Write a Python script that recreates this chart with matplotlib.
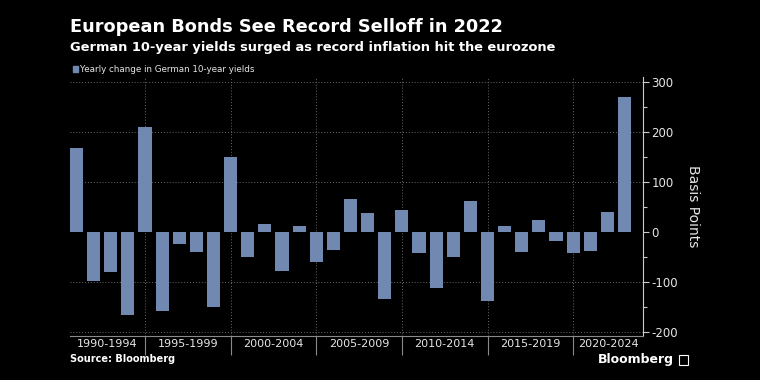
import numpy as np
import matplotlib
matplotlib.use("Agg")
import matplotlib.pyplot as plt
from matplotlib.ticker import MultipleLocator, FixedLocator, FixedFormatter

plt.rcParams["axes.unicode_minus"] = False

years = list(range(1990, 2023))
change_bp = [168, -97, -80, -165, 209, -157, -24, -40, -149, 150,
             -49, 15, -78, 11, -59, -37, 65, 37, -134, 44,
             -42, -112, -50, 62, -137, 11, -41, 23, -18, -42,
             -38, 40, 269]
groups = ["1990-1994", "1995-1999", "2000-2004", "2005-2009",
          "2010-2014", "2015-2019", "2020-2024"]

bar_color = "#7189b0"
grid_color = "#6a6a6a"
text_color = "#e6e6e6"

fig = plt.figure(figsize=(7.6, 3.8), dpi=100, facecolor="black")
ax = fig.add_axes([70/760, 1 - 336/380, (643 - 70)/760, (336 - 77)/380])
ax.set_facecolor("black")

x = np.arange(len(years))
ax.bar(x, change_bp, width=0.76, color=bar_color, zorder=3)

ax.set_xlim(-0.38, 33.08)
ax.set_ylim(-208, 310)

# group separators sit on the last year of each 5-year block
seps = [i for i, y in enumerate(years) if y % 5 == 4]
for s in seps:
    ax.axvline(s, color=grid_color, lw=0.7, ls=(0, (1, 2)), zorder=1)
for v in [300, 200, 100, -100, -200]:
    ax.axhline(v, color=grid_color, lw=0.7, ls=(0, (1, 2)), zorder=1)

# x axis: separator ticks + centred group labels
edges = [-0.38] + seps + [33.08]
centers = [(edges[i] + edges[i + 1]) / 2 for i in range(len(groups))]
ax.xaxis.set_major_locator(FixedLocator(seps))
ax.xaxis.set_minor_locator(FixedLocator(centers))
ax.xaxis.set_minor_formatter(FixedFormatter(groups))
ax.tick_params(axis="x", which="major", length=14, width=0.8, color="#8a8a8a",
               labelbottom=False)
ax.tick_params(axis="x", which="minor", length=0, pad=2, labelsize=8,
               labelcolor=text_color)

# y axis on the right
ax.yaxis.tick_right()
ax.yaxis.set_label_position("right")
ax.yaxis.set_major_locator(MultipleLocator(100))
ax.yaxis.set_minor_locator(MultipleLocator(50))
ax.tick_params(axis="y", which="major", length=4, width=0.8, color="#cccccc",
               labelsize=8.5, labelcolor=text_color, pad=2)
ax.tick_params(axis="y", which="minor", length=3, width=0.8, color="#cccccc")
ax.set_ylabel("Basis Points", rotation=270, labelpad=16, color=text_color,
              fontsize=10)

for side in ["top", "left"]:
    ax.spines[side].set_visible(False)
ax.spines["right"].set_color("#cccccc")
ax.spines["right"].set_linewidth(0.8)
ax.spines["bottom"].set_color("#8a8a8a")
ax.spines["bottom"].set_linewidth(0.8)

fig.text(70/760, 1 - 27/380, "European Bonds See Record Selloff in 2022",
         color="white", fontsize=12.8, fontweight="bold", va="center")
fig.text(70/760, 1 - 48/380,
         "German 10-year yields surged as record inflation hit the eurozone",
         color="white", fontsize=9.4, fontweight="bold", va="center")
fig.patches.append(plt.Rectangle((73/760, 1 - 72/380), 5/760, 6/380,
                                 transform=fig.transFigure, color=bar_color))
fig.text(80/760, 1 - 69/380, "Yearly change in German 10-year yields",
         color=text_color, fontsize=6.3, va="center")
fig.text(70/760, 1 - 359/380, "Source: Bloomberg", color="white",
         fontsize=7, fontweight="bold", va="center")
fig.text(674/760, 1 - 360/380, "Bloomberg", color="white", fontsize=9,
         fontweight="bold", va="center", ha="right")
fig.patches.append(plt.Rectangle((679/760, 1 - 365/380), 9/760, 10/380,
                                 transform=fig.transFigure, facecolor="none",
                                 edgecolor="white", lw=0.8))

fig.savefig("out.png", dpi=100, facecolor="black")
